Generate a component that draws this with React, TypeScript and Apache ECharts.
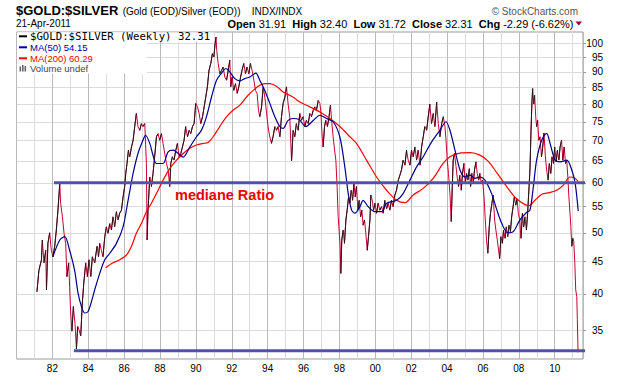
import React, { useEffect, useRef } from "react";
import * as echarts from "echarts";

// Weekly $GOLD:$SILVER ratio, [decimal year, ratio]
const priceData: [number, number][] = [
[1981.14,40.3],[1981.25,43.6],[1981.39,45.3],[1981.44,48.7],[1981.53,44.8],[1981.63,46.9],[1981.67,40.6],[1981.75,48.1],[1981.85,50.0],[1981.94,46.9],
[1982.03,45.8],[1982.13,47.6],[1982.22,50.5],[1982.31,54.3],[1982.41,59.8],[1982.46,55.7],[1982.56,53.0],[1982.65,49.9],[1982.74,48.1],[1982.81,42.6],[1982.91,44.8],[1982.96,41.1],
[1983.02,37.3],[1983.09,34.9],[1983.17,38.2],[1983.26,35.9],[1983.34,32.7],[1983.41,35.5],[1983.48,35.1],[1983.58,34.3],[1983.67,38.7],[1983.75,41.6],[1983.86,44.8],[1983.95,42.6],
[1984.04,45.3],[1984.14,42.6],[1984.23,45.8],[1984.36,44.8],[1984.49,47.6],[1984.57,45.8],[1984.64,48.1],[1984.73,46.9],[1984.82,45.8],[1984.92,49.3],
[1985.01,51.1],[1985.10,49.9],[1985.20,51.7],[1985.29,50.5],[1985.38,53.0],[1985.47,51.1],[1985.57,54.0],[1985.66,52.4],[1985.75,53.7],[1985.85,54.3],[1985.94,57.0],
[1986.03,59.2],[1986.09,62.1],[1986.16,64.4],[1986.24,67.6],[1986.31,66.0],[1986.41,68.4],[1986.50,70.1],[1986.59,73.7],[1986.68,77.3],[1986.77,73.7],[1986.87,72.7],[1986.96,74.5],
[1987.05,73.7],[1987.15,74.5],[1987.24,64.4],[1987.28,48.7],[1987.33,54.3],[1987.43,61.3],[1987.52,59.2],[1987.61,62.1],[1987.70,66.0],[1987.80,71.0],[1987.89,71.8],[1987.98,70.1],
[1988.08,71.8],[1988.17,69.3],[1988.26,66.8],[1988.36,64.4],[1988.45,62.9],[1988.54,59.2],[1988.60,64.4],[1988.69,66.0],[1988.78,65.2],[1988.88,67.6],[1988.97,69.3],
[1989.06,66.0],[1989.16,66.8],[1989.25,68.4],[1989.34,70.1],[1989.43,73.7],[1989.53,71.0],[1989.62,72.7],[1989.71,71.8],[1989.81,73.7],[1989.90,74.5],[1989.99,80.2],
[1990.09,79.2],[1990.18,77.3],[1990.27,74.5],[1990.37,76.4],[1990.46,79.2],[1990.55,82.1],[1990.64,85.2],[1990.73,90.5],[1990.83,92.8],[1990.92,96.2],
[1991.00,95.0],[1991.07,99.8],[1991.12,102.2],[1991.16,97.4],[1991.24,92.8],[1991.33,89.4],[1991.43,90.5],[1991.52,91.6],[1991.61,88.3],[1991.71,87.3],[1991.80,90.5],[1991.89,93.9],[1991.94,85.2],
[1992.02,88.3],[1992.11,84.1],[1992.21,86.2],[1992.30,83.2],[1992.39,85.2],[1992.49,88.3],[1992.57,90.5],[1992.67,92.8],[1992.76,89.4],[1992.85,91.6],[1992.95,89.4],
[1993.04,92.8],[1993.13,90.5],[1993.23,87.3],[1993.32,84.1],[1993.41,83.2],[1993.49,78.2],[1993.56,76.4],[1993.66,79.2],[1993.75,85.2],[1993.84,82.1],[1993.94,77.3],
[1994.02,73.7],[1994.12,71.0],[1994.21,69.3],[1994.30,71.0],[1994.40,73.7],[1994.49,72.7],[1994.58,73.7],[1994.68,71.0],[1994.77,76.4],[1994.86,80.2],[1994.96,82.1],
[1995.05,85.2],[1995.14,80.0],[1995.23,76.4],[1995.33,65.0],[1995.42,72.7],[1995.51,71.0],[1995.60,74.5],[1995.70,72.7],[1995.79,77.3],[1995.88,75.4],[1995.98,76.4],
[1996.07,73.7],[1996.16,75.4],[1996.26,74.5],[1996.35,77.3],[1996.44,76.4],[1996.54,78.2],[1996.63,79.2],[1996.72,78.2],[1996.82,81.1],[1996.91,80.2],[1996.96,78.0],
[1997.04,71.0],[1997.09,68.4],[1997.17,73.7],[1997.24,75.4],[1997.33,73.7],[1997.42,76.4],[1997.50,79.7],[1997.58,74.5],[1997.65,71.0],[1997.73,67.6],[1997.80,65.2],[1997.87,59.2],[1997.93,53.0],[1997.98,50.5],
[1998.04,47.6],[1998.08,43.1],[1998.13,48.7],[1998.21,50.5],[1998.28,48.1],[1998.36,52.4],[1998.43,54.3],[1998.51,57.0],[1998.58,55.7],[1998.66,58.4],[1998.73,56.3],[1998.81,59.8],[1998.88,57.0],[1998.95,59.2],
[1999.03,54.3],[1999.10,56.3],[1999.18,53.0],[1999.25,54.3],[1999.32,51.4],[1999.40,52.4],[1999.47,49.9],[1999.55,46.9],[1999.62,49.3],[1999.70,52.4],[1999.75,57.4],[1999.83,56.3],[1999.90,54.3],[1999.98,55.7],
[2000.07,53.7],[2000.16,55.7],[2000.25,54.3],[2000.35,55.0],[2000.44,53.7],[2000.53,56.3],[2000.63,54.6],[2000.72,55.7],[2000.81,54.3],[2000.90,56.3],[2000.99,55.0],
[2001.09,57.4],[2001.18,58.4],[2001.28,60.6],[2001.37,61.7],[2001.46,62.9],[2001.55,65.2],[2001.65,64.0],[2001.74,67.6],[2001.83,65.2],[2001.93,64.0],
[2002.02,67.6],[2002.11,66.0],[2002.21,68.4],[2002.30,65.2],[2002.39,67.6],[2002.49,64.0],[2002.58,68.4],[2002.67,71.0],[2002.76,73.7],[2002.86,72.7],[2002.95,76.4],
[2003.04,80.0],[2003.13,74.5],[2003.23,77.3],[2003.32,73.7],[2003.42,80.6],[2003.51,74.5],[2003.60,71.0],[2003.70,74.5],[2003.79,76.4],[2003.88,73.7],[2003.94,70.1],
[2004.01,65.2],[2004.08,62.1],[2004.16,57.7],[2004.23,52.1],[2004.29,59.2],[2004.34,65.2],[2004.41,66.8],[2004.49,64.0],[2004.56,61.3],[2004.64,59.2],[2004.71,61.7],[2004.79,58.4],[2004.86,62.1],[2004.94,64.4],
[2005.01,59.9],[2005.09,62.1],[2005.16,60.6],[2005.24,63.2],[2005.31,59.2],[2005.38,62.1],[2005.46,59.9],[2005.53,62.9],[2005.61,64.8],[2005.68,62.1],[2005.76,60.6],[2005.83,62.1],[2005.91,59.9],[2005.98,60.6],
[2006.06,57.0],[2006.13,52.4],[2006.20,48.7],[2006.27,46.4],[2006.35,51.1],[2006.42,53.7],[2006.50,55.7],[2006.57,57.4],[2006.65,52.4],[2006.72,50.5],[2006.80,48.7],[2006.87,46.9],[2006.93,45.5],
[2007.00,49.3],[2007.08,48.1],[2007.15,50.5],[2007.23,49.0],[2007.30,51.1],[2007.38,49.3],[2007.45,51.4],[2007.53,50.2],[2007.60,53.0],[2007.68,55.0],[2007.75,57.0],[2007.83,55.3],[2007.90,56.6],[2007.97,53.7],
[2008.05,52.4],[2008.12,49.0],[2008.20,53.7],[2008.27,51.1],[2008.34,53.0],[2008.42,50.5],[2008.49,53.7],[2008.57,59.2],[2008.62,62.9],[2008.68,72.7],[2008.73,80.6],[2008.77,84.7],[2008.83,80.0],[2008.88,82.6],[2008.94,76.4],[2008.99,73.7],
[2009.05,75.4],[2009.11,70.1],[2009.18,71.0],[2009.26,66.0],[2009.33,68.4],[2009.40,72.0],[2009.48,66.0],[2009.55,62.9],[2009.63,60.6],[2009.70,64.4],[2009.78,62.1],[2009.85,66.0],[2009.93,64.4],
[2010.00,68.4],[2010.08,64.8],[2010.15,67.6],[2010.23,65.2],[2010.30,68.4],[2010.38,70.1],[2010.45,65.2],[2010.53,68.4],[2010.60,64.4],[2010.67,65.2],[2010.73,61.3],[2010.79,57.0],[2010.84,54.3],[2010.90,51.1],[2010.95,47.6],
[2011.01,49.0],[2011.06,48.4],[2011.12,44.8],[2011.17,40.6],[2011.23,39.6],[2011.26,36.4],[2011.30,32.3]
];

const ma50Data: [number, number][] = [
[1982.03,45.8],[1982.41,48.7],[1982.69,49.3],[1982.96,46.9],[1983.24,43.6],[1983.43,40.1],[1983.62,38.2],[1983.80,37.3],[1983.99,37.5],
[1984.18,38.9],[1984.36,40.6],[1984.64,43.1],[1984.92,45.3],[1985.20,46.4],[1985.57,48.1],[1985.94,51.1],[1986.22,56.3],[1986.50,62.1],
[1986.77,66.8],[1987.05,70.1],[1987.19,71.4],[1987.43,69.3],[1987.60,66.5],[1987.80,64.4],[1988.17,64.4],[1988.45,67.2],[1988.73,67.6],
[1989.01,66.8],[1989.29,65.9],[1989.66,68.4],[1990.03,71.0],[1990.31,72.7],[1990.59,76.4],[1990.87,82.1],[1991.15,87.3],[1991.43,89.6],
[1991.67,91.1],[1991.89,90.0],[1992.17,87.8],[1992.45,87.1],[1992.73,87.8],[1993.00,88.3],[1993.34,89.6],[1993.56,87.3],[1993.84,84.1],
[1994.12,80.2],[1994.40,76.4],[1994.68,73.7],[1994.86,73.2],[1995.14,75.4],[1995.42,75.9],[1995.75,75.6],[1996.12,73.7],[1996.55,75.4],
[1996.91,76.8],[1997.28,75.9],[1997.65,75.0],[1998.02,71.0],[1998.30,63.6],[1998.49,57.7],[1998.68,54.3],[1998.86,53.7],[1999.14,55.0],
[1999.32,56.3],[1999.60,55.0],[1999.98,54.0],[2000.35,54.0],[2000.63,55.7],[2001.19,56.3],[2001.55,57.7],[2001.93,60.6],[2002.30,63.6],
[2002.67,66.0],[2003.14,69.7],[2003.60,72.7],[2003.94,75.0],[2004.16,72.7],[2004.44,67.6],[2004.72,62.9],[2005.00,61.3],[2005.28,61.7],
[2005.55,61.0],[2005.83,61.3],[2006.11,60.6],[2006.48,57.7],[2006.76,54.5],[2007.04,51.8],[2007.38,50.0],[2007.69,50.2],[2008.06,52.4],
[2008.44,53.9],[2008.62,54.3],[2008.81,59.2],[2008.99,65.2],[2009.27,70.1],[2009.55,71.9],[2009.74,69.3],[2010.02,65.2],[2010.30,64.8],
[2010.67,65.2],[2010.95,62.9],[2011.14,59.9],[2011.31,54.15]
];

const ma200Data: [number, number][] = [
[1984.97,44.0],[1985.38,44.8],[1985.75,45.3],[1986.13,46.1],[1986.41,47.6],[1986.68,49.9],[1986.96,51.7],[1987.24,54.0],[1987.52,55.7],
[1987.80,57.7],[1988.17,60.6],[1988.54,63.2],[1988.92,65.2],[1989.29,66.8],[1989.66,68.1],[1990.03,68.9],[1990.40,69.3],[1990.68,69.5],
[1990.96,71.0],[1991.33,73.7],[1991.71,76.4],[1992.07,78.2],[1992.45,79.7],[1992.82,82.1],[1993.19,84.1],[1993.56,85.7],[1993.84,86.2],
[1994.12,86.2],[1994.49,85.4],[1994.86,83.6],[1995.23,82.6],[1995.51,81.7],[1995.79,80.6],[1996.35,79.2],[1996.91,77.7],[1997.47,75.9],
[1998.02,73.7],[1998.58,71.0],[1998.95,69.3],[1999.51,65.2],[2000.07,61.3],[2000.63,58.4],[2001.19,56.3],[2001.65,55.8],[2002.11,57.4],
[2002.67,58.8],[2003.23,61.0],[2003.78,64.4],[2004.16,66.0],[2004.72,66.9],[2005.28,67.0],[2005.83,66.4],[2006.30,64.9],[2006.80,62.1],
[2007.32,59.2],[2007.88,56.6],[2008.55,55.2],[2008.90,56.3],[2009.30,57.6],[2009.70,57.9],[2010.11,58.4],[2010.48,59.5],[2010.85,61.3],
[2011.13,61.0],[2011.31,60.29]
];

// hand-drawn horizontal reference lines [year, ratio]
const medianLine: [number, number][] = [[1982.09, 60], [2013.63, 60]];
const lowLine: [number, number][] = [[1983.2, 32.5], [2011.86, 32.5]];

const yTicks = [35, 40, 45, 50, 55, 60, 65, 70, 75, 80, 85, 90, 95, 100];
const yMinVal = 31.53;
const yMaxVal = 104.1;
const xMinYear = 1980;
const xMaxYear = 2011.576;

const quoteLabels = ["Open", "High", "Low", "Close", "Chg"];
const quoteValues = ["31.91", "32.40", "31.72", "32.31", "-2.29 (-6.62%)"];

const FONT = "'Liberation Sans', Arial, sans-serif";
const ln = Math.log;
const toLn = (pts: [number, number][]) => pts.map(([x, v]) => [x, ln(v)]);

function risingRuns(pts: [number, number][]) {
  const out: any[] = [];
  let inRun = false;
  for (let i = 0; i < pts.length - 1; i++) {
    const a = pts[i], b = pts[i + 1];
    if (b[1] > a[1]) {
      if (!inRun) { out.push([a[0], ln(a[1])]); inRun = true; }
      out.push([b[0], ln(b[1])]);
    } else if (inRun) {
      out.push([(a[0] + b[0]) / 2, '-']);
      inRun = false;
    }
  }
  return out;
}

export default function App() {
  const ref = useRef<HTMLDivElement>(null);
  useEffect(() => {
    if (!ref.current) return;
    const chart = echarts.init(ref.current, null, { renderer: "svg" });
    const txt = (x: number, y: number, text: string, font: string, fill = "#000", align = "left", z = 20) => ({
      type: "text", z, style: { x, y, text, font, fill, textAlign: align, textVerticalAlign: "middle" },
    });
    const quoteText = quoteLabels.map((l, i) => `{b|${l}} {n|${quoteValues[i]}}`).join("  ");
    const option: any = {
      animation: false,
      backgroundColor: "#fff",
      textStyle: { fontFamily: FONT },
      grid: { left: 16.5, right: 37, top: 32, bottom: 17, show: true, borderColor: "#9a9a9a", borderWidth: 1, backgroundColor: "#fff" },
      xAxis: {
        type: "value", min: xMinYear, max: xMaxYear, interval: 1,
        axisLine: { show: false }, axisTick: { show: false },
        axisLabel: {
          margin: 4, fontSize: 10, color: "#000", fontFamily: FONT,
          formatter: (v: number) => {
            if (Math.abs(v - Math.round(v)) > 1e-6) return "";
            const y = Math.round(v);
            if (y % 2 !== 0 || y === 1980) return "";
            return String(y % 100).padStart(2, "0");
          },
        },
        splitLine: { show: true, lineStyle: { color: ["#b9b9b9", "#dcdcdc"], width: 1 } },
      },
      yAxis: {
        type: "value", position: "right", min: ln(yMinVal), max: ln(yMaxVal),
        axisLine: { show: false },
        axisTick: { show: true, length: 3, customValues: yTicks.map(ln), lineStyle: { color: "#9a9a9a" } },
        axisLabel: {
          customValues: yTicks.map(ln), align: "right", margin: 20, fontSize: 10, color: "#000", fontFamily: FONT,
          formatter: (v: number) => String(Math.round(Math.exp(v))),
        },
        splitLine: { show: true, lineStyle: { color: "#dadada", width: 1 } },
      },
      series: [
        { name: "ratio", type: "line", data: toLn(priceData), symbol: "none", lineStyle: { color: "#cc0033", width: 1 }, z: 3 },
        { name: "ratioUp", type: "line", data: risingRuns(priceData), symbol: "none", connectNulls: false, lineStyle: { color: "#1a1a1a", width: 1 }, z: 3 },
        { name: "MA(200)", type: "line", data: toLn(ma200Data), symbol: "none", smooth: 0.3, lineStyle: { color: "#ff0000", width: 1.2 }, z: 4 },
        { name: "MA(50)", type: "line", data: toLn(ma50Data), symbol: "none", smooth: 0.3, lineStyle: { color: "#00008b", width: 1.2 }, z: 4 },
        { name: "median", type: "line", data: toLn(medianLine), symbol: "none", clip: false, lineStyle: { color: "#5252a8", width: 3 }, z: 5 },
        { name: "low", type: "line", data: toLn(lowLine), symbol: "none", clip: false, lineStyle: { color: "#5252a8", width: 3 }, z: 5 },
      ],
      graphic: {
        elements: [
          txt(16, 10, "$GOLD:$SILVER", `bold 13px ${FONT}`),
          txt(122.7, 11, "(Gold (EOD)/Silver (EOD))", `10px ${FONT}`),
          txt(251.7, 11, "INDX/INDX", `10px ${FONT}`),
          txt(578, 11.5, "© StockCharts.com", `10px ${FONT}`, "#555", "right"),
          txt(16, 23.5, "21-Apr-2011", `10px ${FONT}`),
          {
            type: "text", z: 20,
            style: {
              x: 573.5, y: 23.5, text: quoteText, textAlign: "right", textVerticalAlign: "middle",
              rich: {
                b: { fontFamily: FONT, fontWeight: "bold", fontSize: 11, fill: "#000", color: "#000" },
                n: { fontFamily: FONT, fontSize: 11, fill: "#000", color: "#000" },
              },
              font: `11px ${FONT}`,
            },
          },
          { type: "polygon", z: 20, shape: { points: [[575.5, 21.5], [582, 21.5], [578.75, 25.5]] }, style: { fill: "#990033" } },
          // legend
          { type: "rect", z: 15, shape: { x: 17, y: 32.5, width: 130, height: 41 }, style: { fill: "#fff" } },
          { type: "rect", z: 15, shape: { x: 17, y: 32.5, width: 196, height: 9 }, style: { fill: "#fff" } },
          { type: "line", z: 20, shape: { x1: 19, y1: 36.3, x2: 27, y2: 36.3 }, style: { stroke: "#000", lineWidth: 2 } },
          txt(30, 36.5, "$GOLD:$SILVER (Weekly) 32.31", `10.7px 'DejaVu Sans Mono', monospace`),
          { type: "line", z: 20, shape: { x1: 19, y1: 47.3, x2: 27, y2: 47.3 }, style: { stroke: "#000099", lineWidth: 2 } },
          txt(30, 47.5, "MA(50) 54.15", `9.5px ${FONT}`, "#000099"),
          { type: "line", z: 20, shape: { x1: 19, y1: 58.3, x2: 27, y2: 58.3 }, style: { stroke: "#ff0000", lineWidth: 2 } },
          txt(30, 58.5, "MA(200) 60.29", `9.5px ${FONT}`, "#ff0000"),
          { type: "rect", z: 20, shape: { x: 19.5, y: 66.5, width: 1.6, height: 5 }, style: { fill: "#666" } },
          { type: "rect", z: 20, shape: { x: 22, y: 65, width: 1.6, height: 6.5 }, style: { fill: "#666" } },
          { type: "rect", z: 20, shape: { x: 24.5, y: 66, width: 1.6, height: 5.5 }, style: { fill: "#666" } },
          txt(30, 68.8, "Volume undef", `9.5px ${FONT}`, "#444"),
          txt(175, 195, "mediane Ratio", `bold 14.5px ${FONT}`, "#ee0000"),
        ],
      },
    };
    chart.setOption(option);
    return () => chart.dispose();
  }, []);
  return <div ref={ref} style={{ position: "absolute", left: 0, top: 0, width: 620, height: 376 }} />;
}
